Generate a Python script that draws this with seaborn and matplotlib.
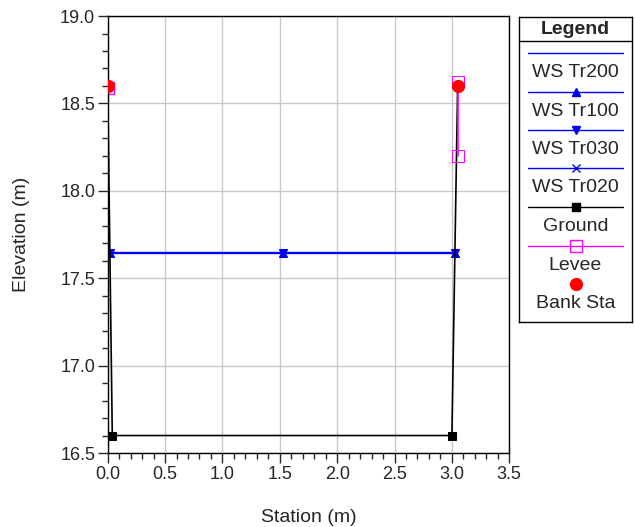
import matplotlib
matplotlib.use("Agg")
import matplotlib.pyplot as plt
import seaborn as sns
import numpy as np
from matplotlib.ticker import MultipleLocator

# data
ws_sta = [0.02, 1.53, 3.03]
ws_elev = [17.645, 17.645, 17.645]
ground_sta = [0.0, 0.04, 3.0, 3.05]
ground_elev = [18.6, 16.6, 16.6, 18.6]
levee_left_sta = [0.0]
levee_left_elev = [18.59]
levee_right_sta = [3.05, 3.05]
levee_right_elev = [18.62, 18.2]
bank_sta = [0.0, 3.05]
bank_elev = [18.6, 18.6]

legend_labels = ["WS Tr200", "WS Tr100", "WS Tr030", "WS Tr020", "Ground", "Levee", "Bank Sta"]
legend_colors = ["#0000ff", "#0000ff", "#0000ff", "#0000ff", "black", "#ff00ff", "red"]
legend_markers = [None, "^", "v", "x", "s", "s", "o"]

sns.set_style("white")
plt.rcParams['font.family'] = ['Liberation Sans', 'DejaVu Sans']

fig = plt.figure(figsize=(6.35, 5.27), dpi=100)
ax = fig.add_axes([0.1696, 0.1404, 0.6324, 0.8292])

# water surfaces (all the same level)
sns.lineplot(x=ws_sta, y=ws_elev, sort=False, estimator=None, color="#0000ff", lw=1.5, ax=ax)
sns.lineplot(x=ws_sta, y=ws_elev, sort=False, estimator=None, color="#0000ff", lw=1.5,
             marker="^", markersize=6, markeredgecolor="#0000ff", ax=ax)
sns.lineplot(x=ws_sta, y=ws_elev, sort=False, estimator=None, color="#0000ff", lw=1.5,
             marker="v", markersize=6, markeredgecolor="#0000ff", ax=ax)
sns.lineplot(x=ws_sta, y=ws_elev, sort=False, estimator=None, color="#0000ff", lw=1.5,
             marker="x", markersize=6, markeredgecolor="#0000ff", ax=ax)

# ground
sns.lineplot(x=ground_sta, y=ground_elev, sort=False, estimator=None, color="black", lw=1.2,
             marker="s", markersize=5.5, markeredgecolor="black", ax=ax)
# levees
ax.plot(levee_left_sta, levee_left_elev, color="#ff00ff", marker="s", markersize=8,
        markerfacecolor="none", markeredgecolor="#ff00ff", lw=0)
sns.lineplot(x=levee_right_sta, y=levee_right_elev, sort=False, estimator=None, color="#ff00ff",
             lw=1.2, marker="s", markersize=8, markerfacecolor="none", markeredgecolor="#ff00ff", ax=ax)
# bank stations
ax.plot(bank_sta, bank_elev, ls="none", marker="o", markersize=8.5, color="red", zorder=5)

ax.set_xlim(0, 3.5)
ax.set_ylim(16.5, 19.0)
ax.xaxis.set_major_locator(MultipleLocator(0.5))
ax.xaxis.set_minor_locator(MultipleLocator(0.1))
ax.yaxis.set_major_locator(MultipleLocator(0.5))
ax.yaxis.set_minor_locator(MultipleLocator(0.1))
ax.set_xticklabels([f"{v:.1f}" for v in ax.get_xticks()])
ax.set_yticklabels([f"{v:.1f}" for v in ax.get_yticks()])
ax.tick_params(which="major", direction="out", length=7, width=1, labelsize=13, pad=2,
               bottom=True, left=True)
ax.tick_params(which="minor", direction="out", length=4, width=1, bottom=True, left=True)
ax.grid(True, which="major", color="#c8c8c8", lw=1)
ax.set_axisbelow(True)
for s in ax.spines.values():
    s.set_color("black")
    s.set_linewidth(1)
ax.set_xlabel("Station (m)", fontsize=14, labelpad=19)
ax.set_ylabel("Elevation (m)", fontsize=14, labelpad=22)

# legend box drawn by hand: handle above its label
lg = fig.add_axes([519 / 635, 1 - 322 / 527, 113 / 635, 305 / 527])
lg.set_xlim(519, 632)
lg.set_ylim(322, 17)
lg.set_xticks([])
lg.set_yticks([])
for s in lg.spines.values():
    s.set_color("black")
    s.set_linewidth(1)
lg.text(575.5, 34, "Legend", ha="center", va="baseline", fontsize=14, fontweight="bold")
lg.plot([519, 632], [40.5, 40.5], color="black", lw=1)
line_y = [53, 91.5, 130, 168, 207, 245.5, 284]
for lab, col, mk, yy in zip(legend_labels, legend_colors, legend_markers, line_y):
    if lab != "Bank Sta":
        lg.plot([528, 623], [yy, yy], color=col, lw=1)
    if mk is not None:
        face = "none" if lab == "Levee" else col
        size = {"o": 8.5, "s": 6 if lab == "Ground" else 8}.get(mk, 6)
        lg.plot([575.5], [yy], marker=mk, color=col, markersize=size,
                markerfacecolor=face, markeredgecolor=col, ls="none")
    lg.text(575.5, yy + 24, lab, ha="center", va="baseline", fontsize=14)

fig.savefig("out.png", dpi=100)
